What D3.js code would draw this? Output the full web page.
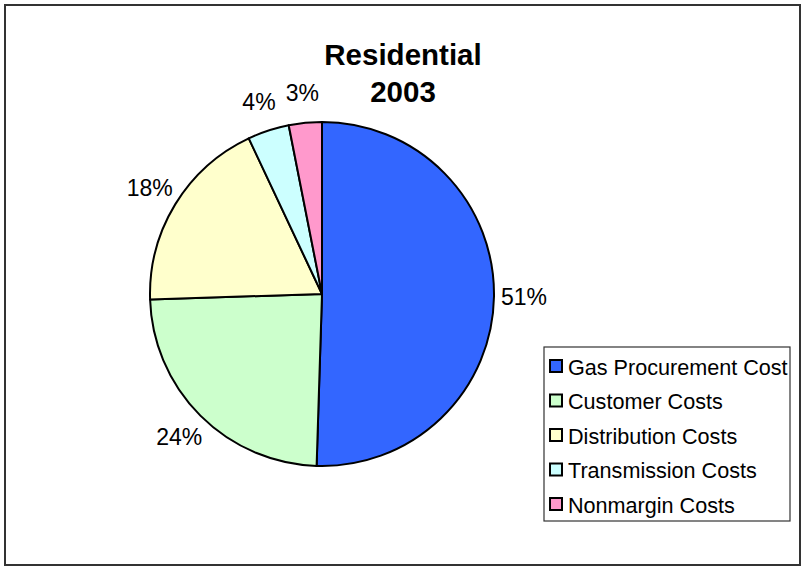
<!DOCTYPE html>
<html>
<head>
<meta charset="utf-8">
<script src="https://cdn.jsdelivr.net/npm/d3@7"></script>
<style>
  html, body { margin: 0; padding: 0; background: #fff; }
  svg { display: block; font-family: "Liberation Sans", Arial, sans-serif; }
</style>
</head>
<body>
<svg id="chart" width="804" height="568"></svg>
<script>
// Data
const categories = ["Gas Procurement Cost", "Customer Costs", "Distribution Costs", "Transmission Costs", "Nonmargin Costs"];
const values = [50.5, 24.0, 18.5, 3.9, 3.1];
const labels = ["51%", "24%", "18%", "4%", "3%"];
const colors = ["#3366FF", "#CCFFCC", "#FFFFCC", "#CCFFFF", "#FF99CC"];
const titleLines = ["Residential", "2003"];

const svg = d3.select("#chart");

// Outer border
svg.append("rect")
  .attr("x", 5).attr("y", 5)
  .attr("width", 795).attr("height", 560)
  .attr("fill", "#fff")
  .attr("stroke", "#333").attr("stroke-width", 2);

// Title
const title = svg.append("text")
  .attr("x", 403).attr("y", 65)
  .attr("text-anchor", "middle")
  .attr("font-weight", "bold")
  .attr("font-size", 29.5)
  .attr("fill", "#000");
titleLines.forEach((t, i) => {
  title.append("tspan").attr("x", 403).attr("dy", i === 0 ? 0 : 37).text(t);
});

// Pie
const cx = 322, cy = 294, r = 172;
const data = categories.map((c, i) => ({ name: c, value: values[i], label: labels[i], color: colors[i] }));
const pie = d3.pie().value(d => d.value).sort(null);
const arc = d3.arc().innerRadius(0).outerRadius(r);
const labelArc = d3.arc().innerRadius(202).outerRadius(202);
const arcs = pie(data);

const g = svg.append("g").attr("transform", `translate(${cx},${cy})`);
g.selectAll("path.slice")
  .data(arcs)
  .join("path")
  .attr("class", "slice")
  .attr("d", arc)
  .attr("fill", d => d.data.color)
  .attr("stroke", "#000")
  .attr("stroke-width", 2)
  .attr("stroke-linejoin", "round");

g.selectAll("text.lbl")
  .data(arcs)
  .join("text")
  .attr("class", "lbl")
  .attr("x", d => labelArc.centroid(d)[0])
  .attr("y", d => labelArc.centroid(d)[1])
  .attr("text-anchor", "middle")
  .attr("dominant-baseline", "central")
  .attr("font-size", 23)
  .attr("fill", "#000")
  .text(d => d.data.label);

// Legend
const lx = 544, ly = 347, lw = 246, lh = 174;
svg.append("rect")
  .attr("x", lx).attr("y", ly)
  .attr("width", lw).attr("height", lh)
  .attr("fill", "#fff")
  .attr("stroke", "#333").attr("stroke-width", 1.2);

const legendY = d3.scalePoint().domain(categories).range([366, 504]);
const items = svg.selectAll("g.leg")
  .data(data)
  .join("g")
  .attr("class", "leg")
  .attr("transform", d => `translate(${lx}, ${legendY(d.name)})`);
items.append("rect")
  .attr("x", 6).attr("y", -6)
  .attr("width", 12).attr("height", 12)
  .attr("fill", d => d.color)
  .attr("stroke", "#000").attr("stroke-width", 2);
items.append("text")
  .attr("x", 24).attr("y", 1)
  .attr("dominant-baseline", "central")
  .attr("font-size", 21.6)
  .attr("fill", "#000")
  .text(d => d.name);
</script>
</body>
</html>
